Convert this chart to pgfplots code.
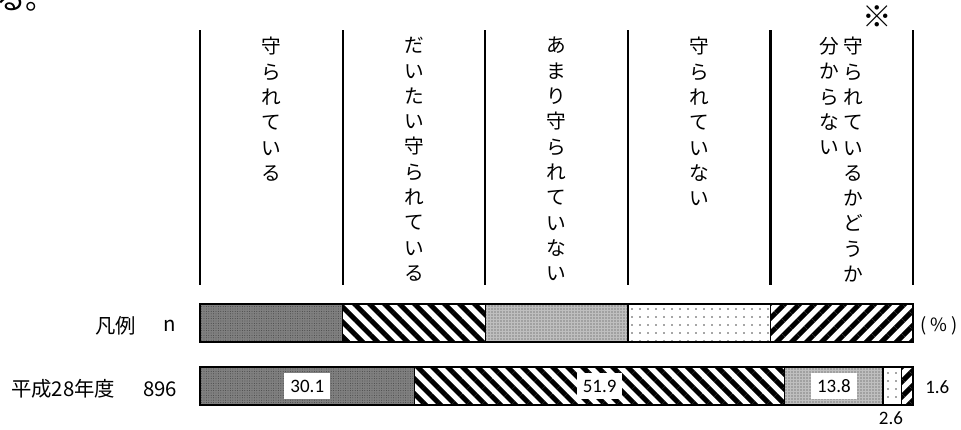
\documentclass[border=0pt]{standalone}
\usepackage{fontspec}
\usepackage{pgfplots}
\pgfplotsset{compat=1.18}
\usetikzlibrary{patterns.meta}
\setmainfont{Carlito}
\newfontfamily\jp{Noto Sans CJK JP}

% 1 px of the reference = 0.25mm; 0..100 % spans px 200..913
\begin{document}
\begin{tikzpicture}
\begin{axis}[
    at={(0,0)}, anchor=south west,
    scale only axis, width=240.25mm, height=107.25mm,
    xmin=-28.05, xmax=106.73, ymin=0, ymax=429, y dir=reverse,
    hide axis, clip=false,
    xbar stacked, bar width=38,
    every axis plot/.append style={draw=black, line width=0.35mm},
]
\addplot[fill=black!50, postaction={pattern={Dots[distance=0.6mm,radius=0.12mm]}, pattern color=black!75}]
    coordinates {(20,323) (30.1,386)};
\addplot[fill=white, postaction={pattern={Lines[angle=-45,distance=2.65mm,line width=1.25mm]}}]
    coordinates {(20,323) (51.9,386)};
\addplot[fill=black!25, postaction={pattern={Dots[distance=0.75mm,radius=0.17mm]}, pattern color=black!75}]
    coordinates {(20,323) (13.8,386)};
\addplot[fill=white, postaction={pattern={Dots[distance=2mm,radius=0.22mm]}, pattern color=black!70}]
    coordinates {(20,323) (2.6,386)};
\addplot[fill=white, postaction={pattern={Lines[angle=45,distance=2.65mm,line width=1.25mm]}}]
    coordinates {(20,323) (1.6,386)};

% column separators
\pgfplotsinvokeforeach{0,20,40,60,80,100}{
  \draw[line width=0.55mm] (axis cs:#1,30) -- (axis cs:#1,285);
}

% column headings, set vertically
\tikzset{vt/.style={anchor=north, align=center, inner sep=0pt,
  font=\jp\fontsize{14}{18}\selectfont}}
\node[vt] at (axis cs:10,37) {守\\ら\\れ\\て\\い\\る};
\node[vt] at (axis cs:30,37) {だ\\い\\た\\い\\守\\ら\\れ\\て\\い\\る};
\node[vt] at (axis cs:50,37) {あ\\ま\\り\\守\\ら\\れ\\て\\い\\な\\い};
\node[vt] at (axis cs:70,37) {守\\ら\\れ\\て\\い\\な\\い};
\node[vt] at (axis cs:91.6,37) {守\\ら\\れ\\て\\い\\る\\か\\ど\\う\\か};
\node[vt] at (axis cs:88.3,37) {分\\か\\ら\\な\\い};
\node[font=\jp\fontsize{21}{24}\selectfont] at (axis cs:95,17) {※};

% row labels
\tikzset{lb/.style={font=\jp\fontsize{14.5}{16}\selectfont, inner sep=0pt}}
\node[lb] at (axis cs:-11.8,326) {凡例};
\node[lb] at (axis cs:-4.2,326) {n};
\node[lb] at (axis cs:-19.2,389) {平成28年度};
\node[lb] at (axis cs:-5.6,389) {896};
\node[font=\jp\fontsize{13}{16}\selectfont, inner sep=0pt] at (axis cs:103.6,326) {( \% )};

% anchor points for the value labels, drawn after the axis
\coordinate (v1) at (axis cs:15.05,386);
\coordinate (v2) at (axis cs:56.05,386);
\coordinate (v3) at (axis cs:88.9,386);
\coordinate (v4) at (axis cs:96.9,418);
\coordinate (v5) at (axis cs:103.4,387);

% cut-off text from the page above
\node[font=\jp\fontsize{21}{24}\selectfont, anchor=base west, inner sep=0pt]
  at (axis cs:-28.6,9) {る。};
\end{axis}
\tikzset{vl/.style={font=\fontsize{13.5}{15}\selectfont, fill=white, inner xsep=1.5mm,
  minimum height=6.5mm}}
\node[vl] at (v1) {30.1};
\node[vl] at (v2) {51.9};
\node[vl] at (v3) {13.8};
\node[font=\fontsize{13.5}{15}\selectfont] at (v4) {2.6};
\node[font=\fontsize{13.5}{15}\selectfont] at (v5) {1.6};
\pgfresetboundingbox
\path (0,0) rectangle (240.25mm,107.25mm);
\end{tikzpicture}
\end{document}
